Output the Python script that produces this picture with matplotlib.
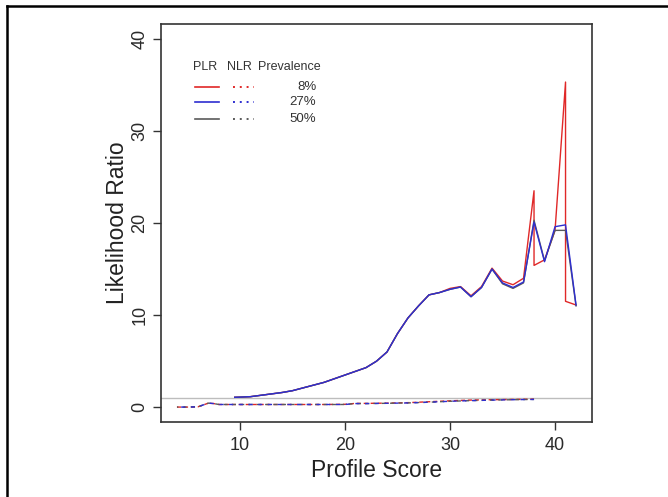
import matplotlib
matplotlib.use("Agg")
import matplotlib.pyplot as plt
from matplotlib.lines import Line2D

plt.rcParams['font.family'] = ['Liberation Sans', 'DejaVu Sans']

# ---- data ----
plr_x = [9.5, 10, 11, 12, 13, 14, 15, 16, 17, 18, 19, 20, 21, 22, 23, 24, 25, 26,
         27, 28, 29, 30, 31, 32, 33, 34, 35, 36, 37, 38, 39, 40, 41, 42]
plr_27 = [1.08, 1.1, 1.15, 1.3, 1.45, 1.6, 1.8, 2.1, 2.4, 2.7, 3.1, 3.5, 3.9, 4.3, 5.0,
          6.0, 8.0, 9.7, 11.0, 12.2, 12.45, 12.8, 13.05, 12.0, 13.0, 15.0, 13.5, 13.0,
          13.6, 20.1, 15.8, 19.6, 19.8, 11.1]
plr_50 = [1.08, 1.1, 1.15, 1.3, 1.45, 1.6, 1.8, 2.1, 2.4, 2.7, 3.1, 3.5, 3.9, 4.3, 5.0,
          6.0, 8.0, 9.7, 11.0, 12.2, 12.45, 12.8, 13.05, 12.0, 13.0, 15.0, 13.4, 12.9,
          13.5, 20.3, 15.9, 19.2, 19.2, 11.0]
plr8_x = [9.5, 10, 11, 12, 13, 14, 15, 16, 17, 18, 19, 20, 21, 22, 23, 24, 25, 26,
          27, 28, 29, 30, 31, 32, 33, 34, 35, 36, 37, 38, 38, 39, 40, 41, 41, 42]
plr_8 = [1.08, 1.1, 1.15, 1.3, 1.45, 1.6, 1.8, 2.1, 2.4, 2.7, 3.1, 3.5, 3.9, 4.3, 5.0,
         6.0, 8.0, 9.7, 11.0, 12.2, 12.45, 12.9, 13.1, 12.1, 13.1, 15.1, 13.7, 13.3,
         14.0, 23.5, 15.4, 16.0, 19.2, 35.3, 11.5, 11.1]

nlr_x = [4, 5, 6, 6.5, 7, 7.5, 8, 10, 12, 14, 16, 18, 20, 21, 22, 24, 26, 28, 30,
         32, 34, 36, 38]
nlr_8 = [0.02, 0.02, 0.05, 0.25, 0.45, 0.4, 0.3, 0.3, 0.3, 0.3, 0.3, 0.3, 0.32, 0.42,
         0.42, 0.45, 0.5, 0.6, 0.7, 0.78, 0.82, 0.85, 0.88]
nlr_27 = [0.02, 0.02, 0.05, 0.25, 0.45, 0.4, 0.3, 0.3, 0.3, 0.3, 0.3, 0.3, 0.3, 0.4,
          0.4, 0.43, 0.47, 0.55, 0.65, 0.72, 0.78, 0.82, 0.85]
nlr_50 = [0.02, 0.02, 0.05, 0.25, 0.45, 0.4, 0.3, 0.3, 0.3, 0.3, 0.3, 0.3, 0.3, 0.4,
          0.4, 0.43, 0.47, 0.55, 0.65, 0.72, 0.78, 0.82, 0.85]

ref_level = 1
prevalences = ["8%", "27%", "50%"]
colors = ["#e02828", "#2e2ed0", "#5a5a5a"]
xticks = [10, 20, 30, 40]
yticks = [0, 10, 20, 30, 40]

# ---- figure ----
W, H = 668, 497
fig = plt.figure(figsize=(W / 100, H / 100), dpi=100)
fig.patch.set_facecolor("white")

# outer frame (top and left visible)
fig.add_artist(Line2D([7 / W, 7 / W], [-0.1, 1 - 6 / H], transform=fig.transFigure,
                      color="black", lw=1.8))
fig.add_artist(Line2D([7 / W, 1.1], [1 - 6 / H, 1 - 6 / H], transform=fig.transFigure,
                      color="black", lw=1.8))

ax = fig.add_axes([161 / W, 1 - 422 / H, 431 / W, 398 / H])
ax.set_xlim(4 - 0.04 * 38, 42 + 0.04 * 38)
ax.set_ylim(0 - 0.04 * 40, 40 + 0.04 * 40)

ax.axhline(ref_level, color="#bdbdbd", lw=1.0, zorder=1)

ax.plot(plr8_x, plr_8, color=colors[0], lw=1.0, zorder=3)
ax.plot(plr_x, plr_50, color=colors[2], lw=1.0, zorder=3)
ax.plot(plr_x, plr_27, color=colors[1], lw=1.0, zorder=4)

ax.plot(nlr_x, nlr_8, color=colors[0], lw=1.0, ls=(0, (3, 2)), zorder=3)
ax.plot(nlr_x, nlr_50, color=colors[2], lw=1.0, ls=(2, (3, 3)), zorder=3)
ax.plot(nlr_x, nlr_27, color=colors[1], lw=1.0, ls=(4, (3, 4)), zorder=4)

ax.set_xticks(xticks)
ax.set_yticks(yticks)
ax.tick_params(axis="both", direction="out", length=6, width=1.0, color="#333333",
               labelsize=13, labelcolor="#2a2a2a", pad=5)
for lab in ax.get_yticklabels():
    lab.set_rotation(90)
    lab.set_va("center")
ax.tick_params(axis="y", pad=3)
for s in ax.spines.values():
    s.set_color("#333333")
    s.set_linewidth(1.2)

ax.set_xlabel("Profile Score", fontsize=16.5, color="#222222", labelpad=3.5)
ax.set_ylabel("Likelihood Ratio", fontsize=16.5, color="#222222", labelpad=2)

# custom legend (in axes fraction)
hdr_y = 0.892
ax.text(0.074, hdr_y, "PLR", transform=ax.transAxes, fontsize=9, color="#333333",
        va="center", ha="left")
ax.text(0.152, hdr_y, "NLR", transform=ax.transAxes, fontsize=9, color="#333333",
        va="center", ha="left")
ax.text(0.224, hdr_y, "Prevalence", transform=ax.transAxes, fontsize=9, color="#333333",
        va="center", ha="left")
row_y = [0.842, 0.803, 0.761]
for yy, c, p in zip(row_y, colors, prevalences):
    ax.plot([0.079, 0.135], [yy, yy], transform=ax.transAxes, color=c, lw=1.2)
    ax.plot([0.167, 0.216], [yy, yy], transform=ax.transAxes, color=c, lw=1.4,
            ls=(0, (1, 2.5)))
    ax.text(0.36, yy, p, transform=ax.transAxes, fontsize=9.5, color="#333333",
            va="center", ha="right")

fig.savefig("out.png", dpi=100)
